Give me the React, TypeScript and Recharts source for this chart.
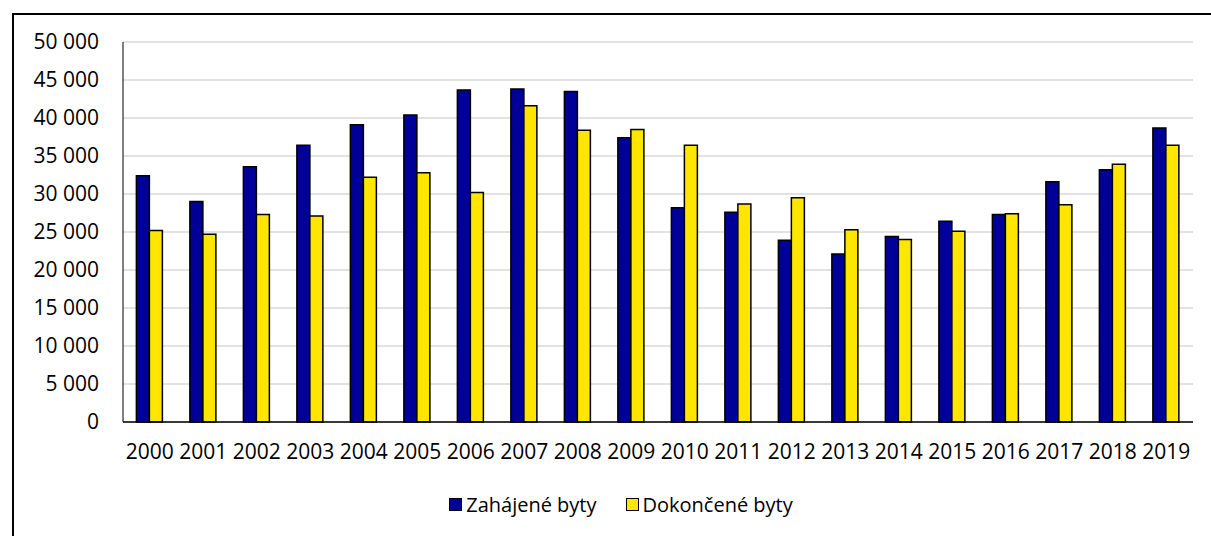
import { BarChart, Bar, XAxis, YAxis, CartesianGrid, Legend } from "recharts";

const years = [
  "2000", "2001", "2002", "2003", "2004", "2005", "2006", "2007", "2008", "2009",
  "2010", "2011", "2012", "2013", "2014", "2015", "2016", "2017", "2018", "2019",
];
const zahajene = [
  32400, 29000, 33600, 36400, 39100, 40400, 43700, 43800, 43500, 37400,
  28200, 27600, 23900, 22100, 24400, 26400, 27300, 31600, 33200, 38700,
];
const dokoncene = [
  25200, 24700, 27300, 27100, 32200, 32800, 30200, 41600, 38400, 38500,
  36400, 28700, 29500, 25300, 24000, 25100, 27400, 28600, 33900, 36400,
];
const yTicks = [0, 5000, 10000, 15000, 20000, 25000, 30000, 35000, 40000, 45000, 50000];
const seriesNames = ["Zahájené byty", "Dokončené byty"];

const data = years.map((year, i) => ({
  year,
  zahajene: zahajene[i],
  dokoncene: dokoncene[i],
}));

const FONT = "'Open Sans', Lato, sans-serif";
const FS = 21;
const BLUE = "#000099";
const YELLOW = "#FFE600";

const fmt = (v: number) => v.toString().replace(/\B(?=(\d{3})+(?!\d))/g, " ");

function LegendContent(props: any) {
  const items = [...(props.payload || [])].sort(
    (a: any, b: any) => seriesNames.indexOf(a.value) - seriesNames.indexOf(b.value)
  );
  return (
    <div
      style={{
        display: "flex",
        justifyContent: "center",
        alignItems: "center",
        height: 30,
        paddingLeft: 31,
        fontFamily: FONT,
        fontSize: 20,
        color: "#000",
      }}
    >
      {items.map((item: any, i: number) => (
        <div
          key={item.value}
          style={{ display: "flex", alignItems: "center", marginLeft: i > 0 ? 29 : 0 }}
        >
          <span
            style={{
              display: "inline-block",
              width: 11,
              height: 11,
              border: "1.5px solid #000",
              background: item.color,
              marginRight: 4,
            }}
          />
          <span>{item.value}</span>
        </div>
      ))}
    </div>
  );
}

export default function App() {
  return (
    <div
      style={{
        position: "fixed",
        left: 0,
        top: 0,
        width: 1211,
        height: 536,
        background: "#fff",
        overflow: "hidden",
      }}
    >
      <div
        style={{
          position: "absolute",
          left: 12,
          top: 13,
          width: 1220,
          height: 540,
          border: "2px solid #000",
          boxSizing: "border-box",
        }}
      />
      <BarChart
        width={1211}
        height={536}
        data={data}
        margin={{ top: 42, right: 18, left: 0, bottom: 17 }}
        barCategoryGap="25%"
        barGap={0}
        style={{ fontFamily: FONT }}
      >
        <CartesianGrid vertical={false} stroke="#d9d9d9" strokeWidth={1.5} />
        <XAxis
          dataKey="year"
          height={67}
          tickLine={false}
          tickSize={0}
          tickMargin={22}
          axisLine={{ stroke: "#000", strokeWidth: 1.5 }}
          tick={{ fill: "#000", fontSize: FS, fontFamily: FONT }}
          interval={0}
        />
        <YAxis
          width={123}
          domain={[0, 50000]}
          ticks={yTicks}
          tickFormatter={fmt}
          tickLine={false}
          tickSize={0}
          tickMargin={24}
          axisLine={{ stroke: "#000", strokeWidth: 1 }}
          tick={{ fill: "#000", fontSize: FS, fontFamily: FONT }}
          interval={0}
        />
        <Legend
          verticalAlign="bottom"
          wrapperStyle={{ left: 0, width: 1211 }}
          content={<LegendContent />}
        />
        <Bar
          dataKey="zahajene"
          name={seriesNames[0]}
          fill={BLUE}
          stroke="#000"
          strokeWidth={1.5}
          isAnimationActive={false}
        />
        <Bar
          dataKey="dokoncene"
          name={seriesNames[1]}
          fill={YELLOW}
          stroke="#000"
          strokeWidth={1.5}
          isAnimationActive={false}
        />
      </BarChart>
    </div>
  );
}
